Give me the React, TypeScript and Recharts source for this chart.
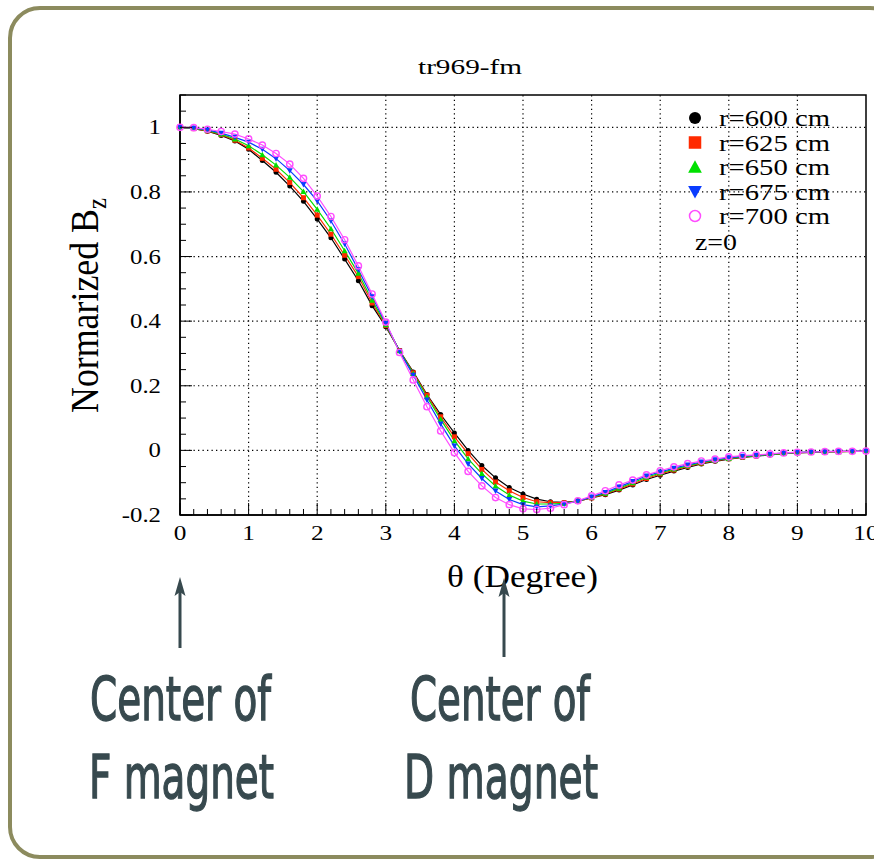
import React from "react";
import {
  LineChart,
  Line,
  XAxis,
  YAxis,
  Legend,
  ReferenceLine,
  ReferenceArea,
} from "recharts";

// theta in degrees, sampled every 0.2
const THETA = [
  0, 0.2, 0.4, 0.6, 0.8, 1, 1.2, 1.4, 1.6, 1.8, 2, 2.2, 2.4, 2.6, 2.8, 3, 3.2, 3.4, 3.6, 3.8, 4,
  4.2, 4.4, 4.6, 4.8, 5, 5.2, 5.4, 5.6, 5.8, 6, 6.2, 6.4, 6.6, 6.8, 7, 7.2, 7.4, 7.6, 7.8, 8,
  8.2, 8.4, 8.6, 8.8, 9, 9.2, 9.4, 9.6, 9.8, 10,
];

const R600 = [
  1.0, 0.996, 0.988, 0.975, 0.958, 0.932, 0.897, 0.861, 0.818, 0.771, 0.716, 0.658, 0.592, 0.525,
  0.448, 0.383, 0.309, 0.243, 0.173, 0.111, 0.054, 0.0, -0.047, -0.085, -0.115, -0.135, -0.151,
  -0.159, -0.161, -0.157, -0.147, -0.137, -0.123, -0.107, -0.09, -0.077, -0.064, -0.053, -0.042,
  -0.034, -0.027, -0.022, -0.018, -0.014, -0.01, -0.008, -0.006, -0.005, -0.004, -0.003, -0.003,
];
const R625 = [
  1.0, 0.996, 0.989, 0.977, 0.96, 0.936, 0.904, 0.87, 0.829, 0.782, 0.728, 0.669, 0.604, 0.538,
  0.456, 0.386, 0.309, 0.24, 0.171, 0.104, 0.042, -0.01, -0.059, -0.098, -0.125, -0.146, -0.159,
  -0.162, -0.162, -0.157, -0.147, -0.135, -0.12, -0.104, -0.087, -0.073, -0.061, -0.05, -0.04,
  -0.032, -0.026, -0.021, -0.017, -0.013, -0.009, -0.007, -0.006, -0.005, -0.004, -0.003, -0.003,
];
const R650 = [
  1.0, 0.997, 0.99, 0.979, 0.964, 0.943, 0.915, 0.883, 0.845, 0.801, 0.746, 0.686, 0.618, 0.548,
  0.465, 0.389, 0.308, 0.238, 0.166, 0.096, 0.03, -0.026, -0.072, -0.11, -0.138, -0.157, -0.166,
  -0.166, -0.164, -0.157, -0.145, -0.133, -0.117, -0.1, -0.083, -0.07, -0.058, -0.048, -0.038,
  -0.031, -0.025, -0.02, -0.016, -0.013, -0.009, -0.007, -0.005, -0.004, -0.004, -0.003, -0.002,
];
const R675 = [
  1.0, 0.998, 0.992, 0.982, 0.969, 0.954, 0.932, 0.903, 0.866, 0.823, 0.772, 0.71, 0.639, 0.559,
  0.476, 0.393, 0.307, 0.233, 0.156, 0.082, 0.014, -0.042, -0.087, -0.126, -0.152, -0.168, -0.175,
  -0.172, -0.166, -0.157, -0.144, -0.13, -0.113, -0.096, -0.079, -0.067, -0.055, -0.045, -0.036,
  -0.029, -0.023, -0.018, -0.015, -0.012, -0.008, -0.006, -0.005, -0.004, -0.003, -0.003, -0.002,
];
const R700 = [
  1.0, 0.999, 0.994, 0.987, 0.979, 0.964, 0.945, 0.919, 0.886, 0.842, 0.787, 0.724, 0.652, 0.571,
  0.484, 0.397, 0.303, 0.218, 0.135, 0.06, -0.007, -0.065, -0.11, -0.146, -0.168, -0.181, -0.183,
  -0.179, -0.168, -0.156, -0.141, -0.125, -0.107, -0.092, -0.076, -0.063, -0.051, -0.041, -0.033,
  -0.027, -0.02, -0.016, -0.014, -0.011, -0.008, -0.006, -0.005, -0.004, -0.003, -0.003, -0.002,
];

const X_TICKS = THETA;
const X_GRID = [1, 2, 3, 4, 5, 6, 7, 8, 9];
const Y_TICKS = [
  -0.2, -0.15, -0.1, -0.05, 0, 0.05, 0.1, 0.15, 0.2, 0.25, 0.3, 0.35, 0.4, 0.45, 0.5, 0.55, 0.6,
  0.65, 0.7, 0.75, 0.8, 0.85, 0.9, 0.95, 1, 1.05, 1.1,
];
const Y_GRID = [0, 0.2, 0.4, 0.6, 0.8, 1];

const SERIES = [
  { key: "r600", label: "r=600 cm", color: "#000000", marker: "circle" },
  { key: "r625", label: "r=625 cm", color: "#ff2a00", marker: "square" },
  { key: "r650", label: "r=650 cm", color: "#00e000", marker: "up" },
  { key: "r675", label: "r=675 cm", color: "#0a3cff", marker: "down" },
  { key: "r700", label: "r=700 cm", color: "#ff4dff", marker: "open" },
];

const table = THETA.map((t, i) => ({
  theta: t,
  r600: R600[i],
  r625: R625[i],
  r650: R650[i],
  r675: R675[i],
  r700: R700[i],
}));

const SERIF = "Liberation Serif, Times New Roman, Times, serif";
const SLATE = "#37494e";

function marker(kind: string, color: string, cx: number, cy: number, s: number, key?: string) {
  switch (kind) {
    case "circle":
      return <circle key={key} cx={cx} cy={cy} r={s * 0.5} fill={color} />;
    case "square":
      return <rect key={key} x={cx - s / 2} y={cy - s / 2} width={s} height={s} fill={color} />;
    case "up":
      return (
        <polygon
          key={key}
          points={`${cx},${cy - s * 0.55} ${cx - s * 0.55},${cy + s * 0.45} ${cx + s * 0.55},${cy + s * 0.45}`}
          fill={color}
        />
      );
    case "down":
      return (
        <polygon
          key={key}
          points={`${cx},${cy + s * 0.55} ${cx - s * 0.55},${cy - s * 0.45} ${cx + s * 0.55},${cy - s * 0.45}`}
          fill={color}
        />
      );
    default:
      return <circle key={key} cx={cx} cy={cy} r={s * 0.45} fill="none" stroke={color} strokeWidth={1.4} />;
  }
}

const dotSize: Record<string, number> = { circle: 5, square: 5, up: 5.5, down: 5.5, open: 7 };

function makeDot(kind: string, color: string) {
  return (p: any) => {
    if (p.cx == null || p.cy == null) return <g key={p.key ?? p.index} />;
    return marker(kind, color, p.cx, p.cy, dotSize[kind], `${kind}-${p.index}`);
  };
}

function XTick(props: any) {
  const { x, y, payload } = props;
  const v = payload.value;
  const major = Math.abs(v - Math.round(v)) < 1e-6;
  return (
    <g>
      <line x1={x} x2={x} y1={y} y2={y - (major ? 12 : 6)} stroke="#000" strokeWidth={1} />
      {major && (
        <text
          transform={`translate(${x},${y + 25}) scale(1.15,1)`}
          textAnchor="middle"
          style={{ fontFamily: SERIF }}
          fontSize={22}
          fill="#000"
        >
          {Math.round(v)}
        </text>
      )}
    </g>
  );
}

function YTick(props: any) {
  const { x, y, payload } = props;
  const v = payload.value;
  const major = Math.abs(v * 5 - Math.round(v * 5)) < 1e-6;
  return (
    <g>
      <line x1={x} x2={x + (major ? 12 : 6)} y1={y} y2={y} stroke="#000" strokeWidth={1} />
      {major && v < 1.05 && (
        <text
          transform={`translate(${x - 19},${y + 7}) scale(1.18,1)`}
          textAnchor="end"
          style={{ fontFamily: SERIF }}
          fontSize={21}
          fill="#000"
        >
          {String(Math.round(v * 10) / 10)}
        </text>
      )}
    </g>
  );
}

function LegendBox() {
  const rowY = [14, 38.5, 63, 87.5, 112];
  return (
    <svg width={180} height={150} style={{ display: "block", overflow: "visible" }}>
      {SERIES.map((s, i) => (
        <g key={s.key}>
          {s.marker === "open" ? (
            <circle cx={15} cy={rowY[i]} r={5.5} fill="none" stroke={s.color} strokeWidth={1.5} />
          ) : (
            marker(s.marker, s.color, 15, rowY[i], s.marker === "circle" ? 12 : 12.5)
          )}
          <text
            x={39}
            y={rowY[i] + 8}
            style={{ fontFamily: SERIF }}
            fontSize={24}
            textLength={111}
            lengthAdjust="spacingAndGlyphs"
            fill="#000"
          >
            {s.label}
          </text>
        </g>
      ))}
      <text
        x={15}
        y={145.5}
        style={{ fontFamily: SERIF }}
        fontSize={24}
        textLength={42}
        lengthAdjust="spacingAndGlyphs"
        fill="#000"
      >
        z=0
      </text>
    </svg>
  );
}

function Arrow({ x, top, bottom }: { x: number; top: number; bottom: number }) {
  return (
    <g>
      <line x1={x} x2={x} y1={bottom} y2={top + 12} stroke={SLATE} strokeWidth={3} />
      <polygon points={`${x},${top} ${x - 5.5},${top + 19} ${x},${top + 15} ${x + 5.5},${top + 19}`} fill={SLATE} />
    </g>
  );
}

function Note({ x, y, width, text }: { x: number; y: number; width: number; text: string }) {
  return (
    <text
      x={x}
      y={y}
      style={{ fontFamily: "DejaVu Sans Condensed, DejaVu Sans, sans-serif" }}
      fontSize={61}
      textLength={width}
      lengthAdjust="spacingAndGlyphs"
      fill={SLATE}
      stroke={SLATE}
      strokeWidth={1.3}
    >
      {text}
    </text>
  );
}

export default function App() {
  return (
    <div
      style={{
        position: "absolute",
        left: 0,
        top: 0,
        width: 874,
        height: 860,
        background: "#fff",
        overflow: "hidden",
      }}
    >
      <LineChart width={874} height={860} data={table} margin={{ top: 95, right: 8, bottom: 305, left: 120 }}>
        <XAxis
          type="number"
          dataKey="theta"
          domain={[0, 10]}
          ticks={X_TICKS}
          interval={0}
          tickSize={0}
          tickMargin={0}
          tickLine={false}
          tick={<XTick />}
          axisLine={{ stroke: "#000", strokeWidth: 1.5 }}
          height={40}
        />
        <YAxis
          type="number"
          domain={[-0.2, 1.1]}
          ticks={Y_TICKS}
          interval={0}
          tickSize={0}
          tickMargin={0}
          tickLine={false}
          tick={<YTick />}
          axisLine={{ stroke: "#000", strokeWidth: 1.5 }}
          width={60}
          allowDataOverflow
        />
        {X_GRID.map((v) => (
          <ReferenceLine key={`gx${v}`} x={v} stroke="#000" strokeWidth={1.2} strokeDasharray="1.3 3.2" />
        ))}
        {Y_GRID.map((v) => (
          <ReferenceLine key={`gy${v}`} y={v} stroke="#000" strokeWidth={1.2} strokeDasharray="1.3 3.2" />
        ))}
        <ReferenceArea x1={0} x2={10} y1={-0.2} y2={1.1} fill="none" stroke="#000" strokeWidth={1.5} />
        {SERIES.map((s) => (
          <Line
            key={s.key}
            type="linear"
            dataKey={s.key}
            stroke={s.color}
            strokeWidth={1.2}
            dot={makeDot(s.marker, s.color)}
            activeDot={false}
            isAnimationActive={false}
          />
        ))}
        <Legend
          layout="horizontal"
          verticalAlign="middle"
          align="center"
          wrapperStyle={{ left: 680, top: 104, width: 180, height: 150 }}
          content={() => <LegendBox />}
        />
      </LineChart>

      <svg
        width={874}
        height={860}
        style={{ position: "absolute", left: 0, top: 0, pointerEvents: "none" }}
      >
        <rect x={10} y={8} width={890} height={849} rx={30} fill="none" stroke="#8c8b5e" strokeWidth={4} />
        <text
          x={470}
          y={74}
          textAnchor="middle"
          style={{ fontFamily: SERIF }}
          fontSize={22}
          textLength={104}
          lengthAdjust="spacingAndGlyphs"
        >
          tr969-fm
        </text>
        <text
          x={447}
          y={587}
          style={{ fontFamily: SERIF }}
          fontSize={31}
          textLength={151}
          lengthAdjust="spacingAndGlyphs"
        >
          θ (Degree)
        </text>
        <text
          transform="translate(98,413) rotate(-90) scale(1.12,1.25)"
          style={{ fontFamily: SERIF }}
          fontSize={32}
        >
          Normarized B
          <tspan fontSize={22} dy={6}>
            z
          </tspan>
        </text>
        <Arrow x={180} top={577} bottom={648} />
        <Arrow x={504} top={578} bottom={657} />
        <Note x={90} y={720} width={181} text="Center of" />
        <Note x={89} y={798} width={185} text="F magnet" />
        <Note x={410} y={720} width={180} text="Center of" />
        <Note x={404} y={798} width={194} text="D magnet" />
      </svg>
    </div>
  );
}
